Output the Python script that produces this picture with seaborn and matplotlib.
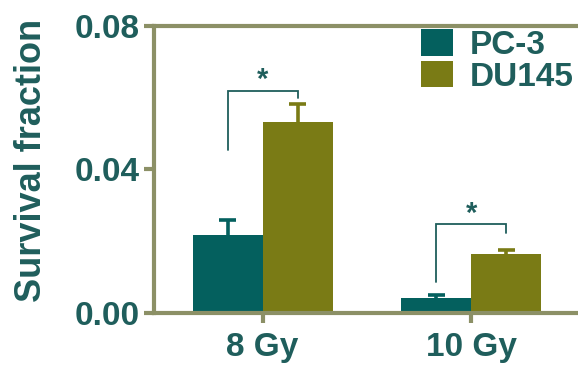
import matplotlib
matplotlib.use("Agg")
import matplotlib.pyplot as plt
import seaborn as sns
import pandas as pd
import numpy as np
from matplotlib.patches import Patch

doses = ["8 Gy", "10 Gy"]
lines = ["PC-3", "DU145"]
pc3_mean = [0.0217, 0.0042]
pc3_err = [0.0042, 0.0008]
du145_mean = [0.0532, 0.0164]
du145_err = [0.0051, 0.0012]
yticks = [0.00, 0.04, 0.08]
ytick_labels = ["0.00", "0.04", "0.08"]

sns.set_style("white")
plt.rcParams["font.family"] = ["Liberation Sans", "DejaVu Sans"]

txt = "#1f5e5c"
spine = "#8c9066"
colors = ["#04605e", "#7a7b15"]

df = pd.DataFrame({
    "dose": doses * 2,
    "line": [lines[0]] * 2 + [lines[1]] * 2,
    "value": pc3_mean + du145_mean,
})

fig = plt.figure(figsize=(5.78, 3.65), dpi=100)
ax = fig.add_axes([0.2664, 0.1425, 0.7336, 0.7863])
sns.barplot(data=df, x="dose", y="value", hue="line", order=doses, hue_order=lines,
            palette=colors, errorbar=None, width=0.67, saturation=1, ax=ax, legend=False)
for p in ax.patches:
    p.set_linewidth(0)

# error bars (upper only)
errs = {lines[0]: pc3_err, lines[1]: du145_err}
means = {lines[0]: pc3_mean, lines[1]: du145_mean}
centers = {}
capw = 0.041
bar_containers = list(ax.containers)
for ci, cont in enumerate(bar_containers):
    ln = lines[ci]
    for i, bar in enumerate(cont):
        xc = bar.get_x() + bar.get_width() / 2
        centers[(ln, i)] = xc
        top = means[ln][i] + errs[ln][i]
        ax.vlines(xc, means[ln][i], top, color=colors[ci], lw=2.6)
        ax.hlines(top, xc - capw, xc + capw, color=colors[ci], lw=2.6)

# significance brackets
brackets = [(0, 0.0455, 0.0620, 0.0598), (1, 0.0086, 0.0247, 0.0222)]
for i, yl, ytop, yr in brackets:
    x1 = centers[(lines[0], i)]
    x2 = centers[(lines[1], i)]
    ax.plot([x1, x1, x2, x2], [yl, ytop, ytop, yr], color=txt, lw=1.3, solid_joinstyle="miter")
    ax.text((x1 + x2) / 2, ytop - 0.0010, "*", ha="center", va="bottom",
            fontsize=21, fontweight="bold", color=txt)

ax.set_xlim(-0.52, 1.51)
ax.set_ylim(0, 0.08)
ax.set_yticks(yticks)
ax.set_yticklabels(ytick_labels)
ax.set_xlabel("")
ax.set_ylabel("Survival fraction", fontsize=26, fontweight="bold", color=txt)
ax.yaxis.set_label_coords(-0.247, 0.533)
for s in ["left", "bottom", "top"]:
    ax.spines[s].set_color(spine)
    ax.spines[s].set_linewidth(3)
ax.spines["right"].set_visible(False)
ax.tick_params(axis="both", which="both", length=7, width=3, color=spine,
               labelsize=24, labelcolor=txt, direction="out")
ax.tick_params(axis="y", left=True, pad=3)
ax.tick_params(axis="x", bottom=True, pad=7)
for t in ax.get_xticklabels() + ax.get_yticklabels():
    t.set_fontweight("bold")

handles = [Patch(facecolor=c, edgecolor="none") for c in colors]
leg = fig.legend(handles, lines, loc="upper left", bbox_to_anchor=(421 / 578, 1 - 29 / 365),
                 frameon=False, prop={"size": 24, "weight": "bold"},
                 handlelength=0.95, handleheight=0.85, handletextpad=0.5,
                 labelspacing=0.0, borderpad=0, borderaxespad=0)
for t in leg.get_texts():
    t.set_color(txt)

fig.savefig("out.png", dpi=100)
